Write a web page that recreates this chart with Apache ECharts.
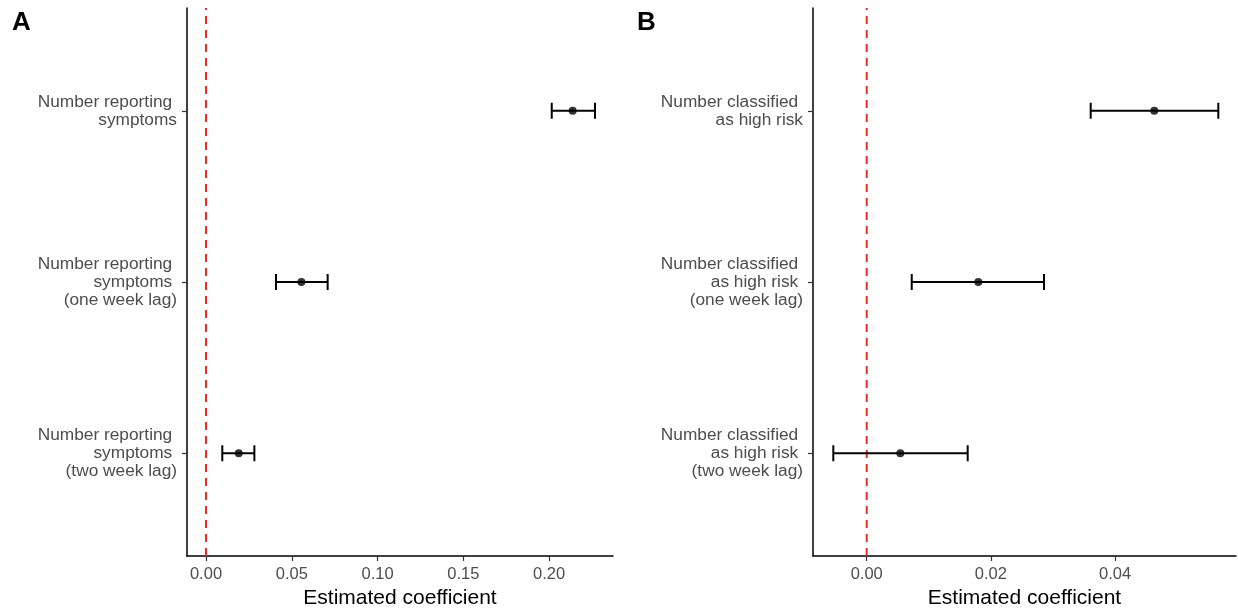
<!DOCTYPE html>
<html>
<head>
<meta charset="utf-8">
<script src="https://cdn.jsdelivr.net/npm/echarts@6/dist/echarts.min.js"></script>
<style>
html,body{margin:0;padding:0;background:#fff;}
#chart{width:1238px;height:613px;}
</style>
</head>
<body>
<div id="chart"></div>
<script>
// Panel A data (rows: 3 = top, 1 = bottom)
const labelsA = {3: 'Number reporting \nsymptoms', 2: 'Number reporting \nsymptoms \n(one week lag)', 1: 'Number reporting \nsymptoms \n(two week lag)'};
const rowsA = [3, 2, 1];
const estA = [0.2137, 0.0556, 0.0191];
const lowA = [0.2015, 0.0408, 0.0095];
const highA = [0.2267, 0.0709, 0.0282];
const ticksA = [0, 0.05, 0.10, 0.15, 0.20];

// Panel B data
const labelsB = {3: 'Number classified \nas high risk', 2: 'Number classified \nas high risk \n(one week lag)', 1: 'Number classified \nas high risk \n(two week lag)'};
const rowsB = [3, 2, 1];
const estB = [0.04631, 0.01797, 0.00541];
const lowB = [0.03607, 0.00725, -0.00538];
const highB = [0.05662, 0.02855, 0.01626];
const ticksB = [0, 0.02, 0.04];

const xTitle = 'Estimated coefficient';
const FONT = '"Liberation Sans", Arial, Helvetica, sans-serif';

const chart = echarts.init(document.getElementById('chart'), null, {renderer: 'canvas'});

function xAxisDef(gi, min, max, ticks) {
  return {
    type: 'value', gridIndex: gi, min: min, max: max,
    splitLine: {show: false},
    axisLine: {show: true, onZero: false, lineStyle: {color: '#000', width: 1.5}},
    axisTick: {show: true, length: 5, customValues: ticks, lineStyle: {color: '#333', width: 1.2}},
    axisLabel: {customValues: ticks, margin: 10, color: '#4d4d4d', fontSize: 16.5, fontFamily: FONT,
      formatter: v => (Math.abs(v) < 1e-12 ? 0 : v).toFixed(2)},
    name: xTitle, nameLocation: 'middle', nameGap: 32,
    nameTextStyle: {color: '#000', fontSize: 21, fontFamily: FONT}
  };
}
function yAxisDef(gi, labels) {
  return {
    type: 'value', gridIndex: gi, min: 0.4, max: 3.6,
    splitLine: {show: false},
    axisLine: {show: true, onZero: false, lineStyle: {color: '#000', width: 1.5}},
    axisTick: {show: true, length: 5, customValues: [1, 2, 3], lineStyle: {color: '#333', width: 1.2}},
    axisLabel: {customValues: [1, 2, 3], margin: 10, color: '#4d4d4d', fontSize: 17.3, lineHeight: 18,
      fontFamily: FONT, align: 'right', formatter: v => labels[Math.round(v)] || ''}
  };
}

function errSeries(gi, rows, low, high) {
  return {
    type: 'custom', xAxisIndex: gi, yAxisIndex: gi,
    data: rows.map((r, i) => [low[i], high[i], r]),
    encode: {x: [0, 1], y: 2},
    renderItem: function (params, api) {
      const y = api.value(2);
      const p1 = api.coord([api.value(0), y]);
      const p2 = api.coord([api.value(1), y]);
      const h = 8;
      const style = {stroke: '#000', lineWidth: 2, fill: null};
      return {
        type: 'group',
        children: [
          {type: 'line', shape: {x1: p1[0], y1: p1[1], x2: p2[0], y2: p2[1]}, style: style},
          {type: 'line', shape: {x1: p1[0], y1: p1[1] - h, x2: p1[0], y2: p1[1] + h}, style: style},
          {type: 'line', shape: {x1: p2[0], y1: p2[1] - h, x2: p2[0], y2: p2[1] + h}, style: style}
        ]
      };
    },
    z: 3
  };
}
function pointSeries(gi, rows, est) {
  return {
    type: 'scatter', xAxisIndex: gi, yAxisIndex: gi,
    data: rows.map((r, i) => [est[i], r]),
    symbol: 'circle', symbolSize: 8,
    itemStyle: {color: '#000'}, z: 4
  };
}
function refLine(gi) {
  return {
    type: 'line', xAxisIndex: gi, yAxisIndex: gi,
    data: [[0, 0.4], [0, 3.6]], symbol: 'none', silent: true,
    lineStyle: {color: '#f2291d', width: 2, type: [8, 6]}, z: 2
  };
}

chart.setOption({
  animation: false,
  backgroundColor: '#fff',
  grid: [
    {left: 187, right: 625, top: 8, bottom: 57, outerBoundsMode: 'none', containLabel: false},
    {left: 813, right: 2, top: 8, bottom: 57, outerBoundsMode: 'none', containLabel: false}
  ],
  graphic: [
    {type: 'text', left: 12, top: 10, style: {text: 'A', font: 'bold 26px ' + FONT, fill: '#000'}},
    {type: 'text', left: 637, top: 10, style: {text: 'B', font: 'bold 26px ' + FONT, fill: '#000'}}
  ],
  xAxis: [
    xAxisDef(0, -0.01107, 0.2372, ticksA),
    xAxisDef(1, -0.00865, 0.05947, ticksB)
  ],
  yAxis: [yAxisDef(0, labelsA), yAxisDef(1, labelsB)],
  series: [
    refLine(0), errSeries(0, rowsA, lowA, highA), pointSeries(0, rowsA, estA),
    refLine(1), errSeries(1, rowsB, lowB, highB), pointSeries(1, rowsB, estB)
  ]
});
</script>
</body>
</html>
